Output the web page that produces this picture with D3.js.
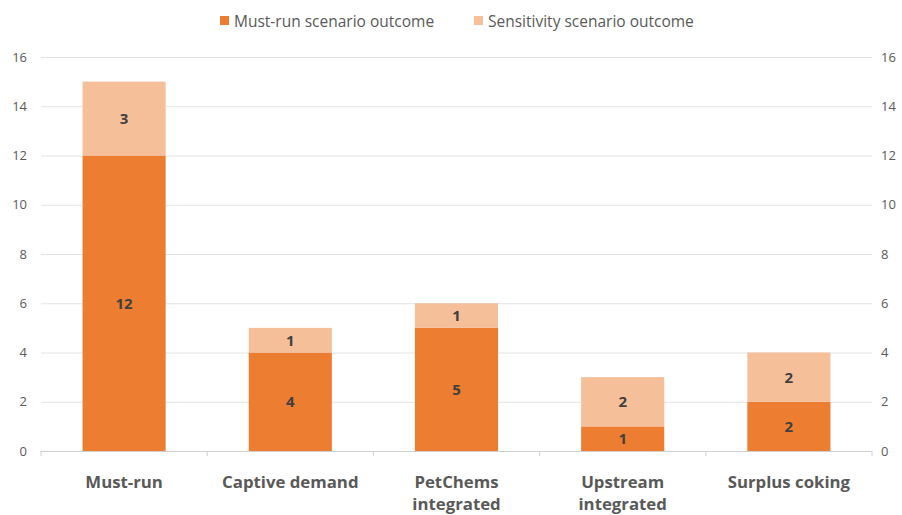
<!DOCTYPE html>
<html>
<head>
<meta charset="utf-8">
<script src="https://cdn.jsdelivr.net/npm/d3@7"></script>
<style>
  body { margin: 0; background: #fff; }
  text { font-family: 'Open Sans', 'Liberation Sans', sans-serif; }
</style>
</head>
<body>
<svg id="chart" width="902" height="515"></svg>
<script>
// chart data
var categories = ['Must-run', 'Captive demand', 'PetChems integrated', 'Upstream integrated', 'Surplus coking'];
var catLines = [['Must-run'], ['Captive demand'], ['PetChems', 'integrated'], ['Upstream', 'integrated'], ['Surplus coking']];
var mustRun = [12, 4, 5, 1, 2];
var sensitivity = [3, 1, 1, 2, 2];
var seriesNames = ['Must-run scenario outcome', 'Sensitivity scenario outcome'];
var yTicks = [0, 2, 4, 6, 8, 10, 12, 14, 16];

var colors = ['#ED7D31', '#F5BF9A'];

var svg = d3.select('#chart');
var plotL = 41, plotR = 872, plotT = 57, plotB = 451;

var x = d3.scaleBand().domain(categories).range([plotL, plotR]).paddingInner(0.5).paddingOuter(0.25);
var y = d3.scaleLinear().domain([0, 16]).range([plotB, plotT]);

// gridlines
svg.append('g')
  .selectAll('line')
  .data(yTicks)
  .enter()
  .append('line')
  .attr('x1', plotL)
  .attr('x2', plotR)
  .attr('y1', function(d) { return y(d) + 0.5; })
  .attr('y2', function(d) { return y(d) + 0.5; })
  .attr('stroke', function(d) { return d === 0 ? '#d0d0d0' : '#e3e3e3'; })
  .attr('stroke-width', 1);

// category ticks on x axis
var bandEdges = d3.range(categories.length + 1).map(function(i) { return plotL + i * (plotR - plotL) / categories.length; });
svg.append('g')
  .selectAll('line')
  .data(bandEdges)
  .enter()
  .append('line')
  .attr('x1', function(d) { return d; })
  .attr('x2', function(d) { return d; })
  .attr('y1', plotB)
  .attr('y2', plotB + 5)
  .attr('stroke', '#d0d0d0');

// left and right axis labels
var yLeft = d3.axisLeft(y).tickValues(yTicks).tickSize(0).tickPadding(14);
var yRight = d3.axisRight(y).tickValues(yTicks).tickSize(0).tickPadding(9);
[[yLeft, plotL], [yRight, plotR]].forEach(function(a) {
  var g = svg.append('g').attr('transform', 'translate(' + a[1] + ',0)').call(a[0]);
  g.select('.domain').remove();
  g.selectAll('text')
    .style('font-family', "'Open Sans', sans-serif")
    .style('font-size', '13px')
    .attr('fill', '#595959');
});

// stacked bars
var stack = categories.map(function(c, i) {
  return [
    { cat: c, y0: 0, y1: mustRun[i], v: mustRun[i], s: 0 },
    { cat: c, y0: mustRun[i], y1: mustRun[i] + sensitivity[i], v: sensitivity[i], s: 1 }
  ];
});
var segs = [].concat.apply([], stack);

svg.append('g')
  .selectAll('rect')
  .data(segs)
  .enter()
  .append('rect')
  .attr('x', function(d) { return x(d.cat); })
  .attr('width', x.bandwidth())
  .attr('y', function(d) { return y(d.y1); })
  .attr('height', function(d) { return y(d.y0) - y(d.y1); })
  .attr('fill', function(d) { return colors[d.s]; });

svg.append('g')
  .selectAll('text')
  .data(segs)
  .enter()
  .append('text')
  .attr('x', function(d) { return x(d.cat) + x.bandwidth() / 2; })
  .attr('y', function(d) { return (y(d.y0) + y(d.y1)) / 2; })
  .attr('dy', '0.36em')
  .attr('text-anchor', 'middle')
  .style('font-size', '15px')
  .style('font-weight', 'bold')
  .attr('fill', '#404040')
  .text(function(d) { return d.v; });

// category labels
var catG = svg.append('g');
categories.forEach(function(c, i) {
  var t = catG.append('text')
    .attr('x', x(c) + x.bandwidth() / 2)
    .attr('y', 488)
    .attr('text-anchor', 'middle')
    .style('font-size', '16.8px')
    .style('font-weight', 'bold')
    .attr('fill', '#595959');
  catLines[i].forEach(function(line, j) {
    t.append('tspan')
      .attr('x', x(c) + x.bandwidth() / 2)
      .attr('dy', j === 0 ? 0 : 22)
      .text(line);
  });
});

// legend
var legendX = [220, 474];
var legend = svg.append('g');
seriesNames.forEach(function(name, i) {
  legend.append('rect')
    .attr('x', legendX[i])
    .attr('y', 16)
    .attr('width', 9)
    .attr('height', 9)
    .attr('fill', colors[i]);
  legend.append('text')
    .attr('x', legendX[i] + 14)
    .attr('y', 21)
    .attr('dy', '0.36em')
    .style('font-size', '15.5px')
    .attr('fill', '#595959')
    .text(name);
});
</script>
</body>
</html>
